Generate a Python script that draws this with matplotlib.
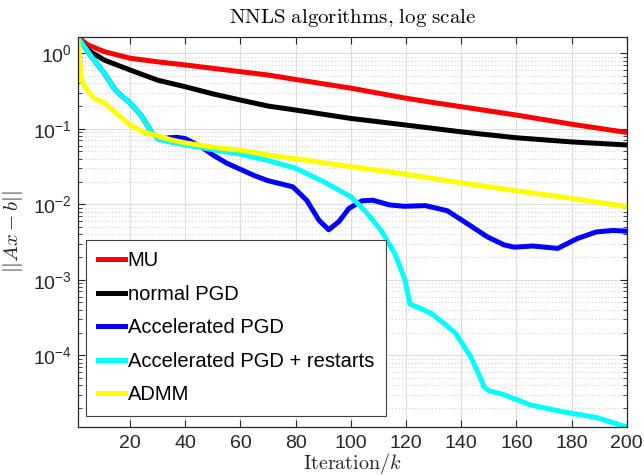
import matplotlib
matplotlib.use("Agg")
import matplotlib.pyplot as plt
from matplotlib.ticker import LogLocator, FixedLocator

plt.rcParams["font.family"] = ["Liberation Sans", "DejaVu Sans"]
plt.rcParams["mathtext.fontset"] = "cm"

# values (iteration, residual)
mu_x = [1, 4.7, 10.7, 20, 30, 40, 60, 70, 80, 100, 120, 128, 140, 160, 180, 200]
mu_y = [1.64, 1.29, 1.05, 0.86, 0.77, 0.70, 0.57, 0.515, 0.45, 0.345, 0.254, 0.228, 0.196, 0.152, 0.115, 0.0895]

pgd_x = [1, 4.7, 10.7, 20, 30, 40, 50, 60, 70, 80, 100, 120, 140, 160, 180, 200]
pgd_y = [1.64, 1.1, 0.81, 0.60, 0.44, 0.36, 0.29, 0.24, 0.20, 0.177, 0.137, 0.112, 0.091, 0.076, 0.067, 0.061]

apgd_x = [1, 6, 10.7, 14.3, 17, 20, 24, 28, 30.6, 34, 37, 40, 43, 46.6, 50, 55, 60, 65, 70,
          75, 79, 84, 88.5, 92, 95.7, 99.3, 104, 108, 114, 119.4, 127, 135, 142, 149.5, 155.5,
          159.3, 166, 175, 182, 189, 195, 200]
apgd_y = [1.64, 0.90, 0.54, 0.34, 0.27, 0.22, 0.15, 0.087, 0.072, 0.076, 0.077, 0.074, 0.065,
          0.055, 0.045, 0.035, 0.029, 0.024, 0.0205, 0.0185, 0.017, 0.0113, 0.0061, 0.0046,
          0.0059, 0.0088, 0.0111, 0.0113, 0.0098, 0.0094, 0.0096, 0.0082, 0.0056, 0.0037,
          0.0029, 0.0027, 0.0028, 0.0026, 0.0035, 0.0043, 0.0045, 0.0044]

rst_x = [1, 6, 10.7, 14.3, 17, 20, 24, 28, 30.6, 35, 40, 50, 60, 70, 80, 90, 100, 105, 111,
         116, 119.6, 121.4, 125, 129, 134, 138, 143.5, 146, 148.3, 150, 155.5, 165, 177, 189, 200]
rst_y = [1.64, 0.90, 0.54, 0.34, 0.27, 0.22, 0.15, 0.087, 0.072, 0.066, 0.061, 0.053, 0.046,
         0.038, 0.030, 0.020, 0.0126, 0.0083, 0.0045, 0.0022, 0.0010, 0.00048, 0.00042,
         0.00036, 0.00026, 0.000195, 9.5e-5, 6e-5, 3.8e-5, 3.4e-5, 3.0e-5, 2.2e-5, 1.78e-5,
         1.5e-5, 1.12e-5]

admm_x = [1, 2, 2.5, 3.5, 7, 10.7, 15, 20, 25, 28.6, 35, 40, 50, 60, 70, 80, 100, 120, 140,
          160, 180, 200]
admm_y = [1.64, 0.60, 0.44, 0.36, 0.25, 0.22, 0.16, 0.112, 0.09, 0.083, 0.071, 0.065, 0.057,
          0.052, 0.045, 0.040, 0.0315, 0.025, 0.0192, 0.0151, 0.012, 0.0093]

series = [
    ("MU", mu_x, mu_y, (1, 0, 0)),
    ("normal PGD", pgd_x, pgd_y, (0, 0, 0)),
    ("Accelerated PGD", apgd_x, apgd_y, (0, 0, 1)),
    ("Accelerated PGD + restarts", rst_x, rst_y, (0, 1, 1)),
    ("ADMM", admm_x, admm_y, (1, 1, 0)),
]
xticks = list(range(20, 201, 20))

fig = plt.figure(figsize=(6.44, 4.75), dpi=100)
ax = fig.add_axes([0.1207, 0.101, 0.8524, 0.821])

for label, xs, ys, color in series:
    ax.plot(xs, ys, color=color, lw=3.6, label=label, solid_joinstyle="round")

# axis tight, like the original
all_y = mu_y + pgd_y + apgd_y + rst_y + admm_y
ax.set_yscale("log")
ax.set_xlim(1, 200)
ax.set_ylim(min(all_y), max(all_y))
ax.xaxis.set_major_locator(FixedLocator(xticks))
ax.yaxis.set_major_locator(LogLocator(base=10, numticks=20))
ax.yaxis.set_minor_locator(LogLocator(base=10, subs=range(2, 10), numticks=20))

ax.grid(True, which="major", color="#dcdcdc", lw=0.8)
ax.grid(True, which="minor", axis="y", color="#d4d4d4", lw=0.8, linestyle=(0, (1, 2)))
ax.set_axisbelow(True)

ax.tick_params(which="both", direction="in", top=True, right=True, colors="#262626",
               labelsize=14, labelcolor="#262626")
ax.tick_params(which="major", length=5, width=0.8)
ax.tick_params(which="minor", length=3, width=0.6)
ax.tick_params(axis="x", which="major", pad=6)
ax.tick_params(axis="y", which="major", pad=4)
for s in ax.spines.values():
    s.set_color("#262626")
    s.set_linewidth(0.9)

ax.set_title(r"$\mathrm{NNLS\ algorithms{,}\ log\ scale}$", fontsize=15, pad=10)
ax.set_xlabel(r"$\mathrm{Iteration}/k$", fontsize=14.5, labelpad=-1, color="#262626")
ax.set_ylabel(r"$||Ax-b||$", fontsize=15, labelpad=6, color="#262626")

leg = ax.legend(loc="lower left", bbox_to_anchor=(0.015, 0.028), fontsize=14.5,
                fancybox=False, framealpha=1, edgecolor="#404040", handlelength=1.35,
                handletextpad=0.15, labelspacing=0.72, borderpad=0.58, borderaxespad=0)
leg.get_frame().set_linewidth(0.8)

fig.savefig("out.png", dpi=100)
